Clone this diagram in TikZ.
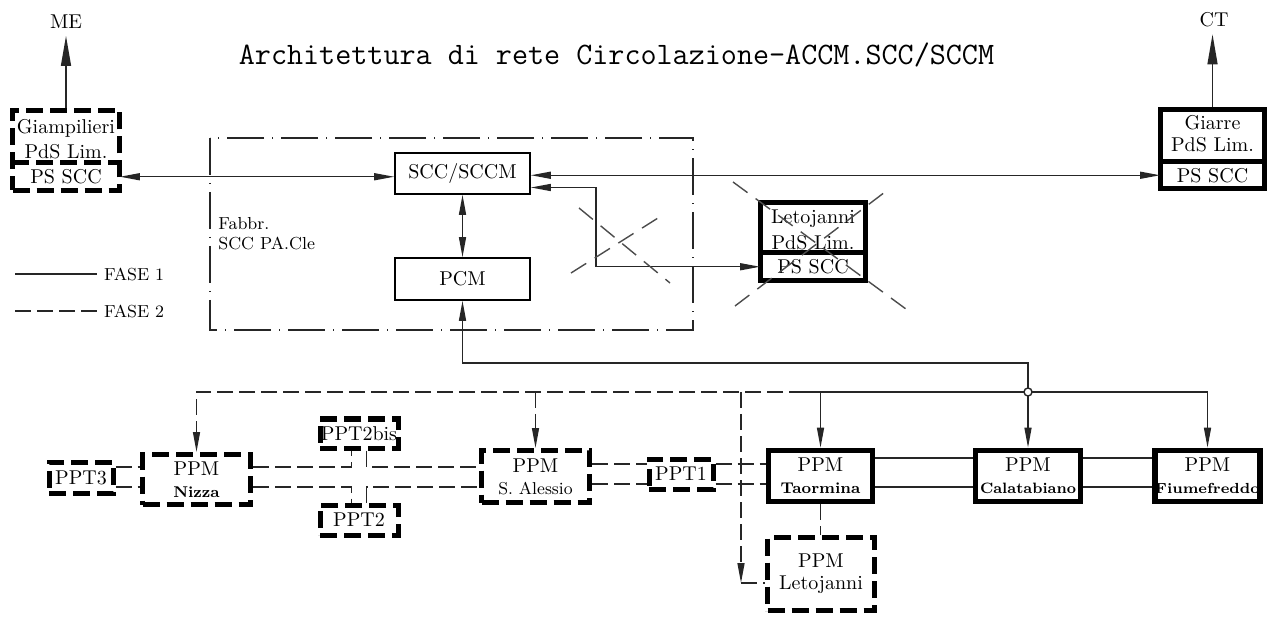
\documentclass[tikz,border=0pt]{standalone}
\usepackage{tikz}
\usetikzlibrary{arrows.meta,positioning,calc}

\newcommand{\sottobf}{\fontsize{7.8}{11}\selectfont\bfseries}
\newcommand{\sotto}{\fontsize{8.6}{11}\selectfont}

\begin{document}
\begin{tikzpicture}[x=0.5pt,y=-0.5pt,
    every node/.style={font=\fontsize{10}{11}\selectfont},
    etich/.style={font=\fontsize{8.7}{10}\selectfont},
    titolo/.style={font=\ttfamily\fontsize{15.6}{16}\selectfont},
    blocco/.style={draw,line width=0.8pt,inner sep=0pt},
    impianto/.style={draw,line width=2.8pt,inner sep=0pt,align=center},
    futuro/.style={draw,line width=2.5pt,dash pattern=on 8.5pt off 3.5pt,inner sep=0pt,align=center},
    ppt/.style={futuro,font=\fontsize{10}{11}\selectfont},
    conn/.style={line width=0.7pt,black!85},
    fase2/.style={conn,dash pattern=on 8pt off 3pt},
    croce/.style={conn,black!70,dash pattern=on 9pt off 5pt},
    cornice/.style={line width=0.8pt,black!85,dash pattern=on 18.5pt off 4pt on 0.5pt off 4pt},
    freccia/.style={-{Triangle[length=10pt,width=3.5pt]}},
    doppia/.style={{Triangle[length=10pt,width=3.5pt]}-{Triangle[length=10pt,width=3.5pt]}},
    grande/.style={-{Triangle[length=15pt,width=5pt]}}]
  \useasboundingbox (0,0) rectangle (1272,619);

  % titolo e legenda
  \node[titolo,anchor=base] (titolo) at (616.5,65) {Architettura di rete Circolazione-ACCM.SCC/SCCM};
  \coordinate (leg1) at (15,274);
  \coordinate (leg2) at (15,311);
  \node[etich,anchor=west] (leguno) at (97,274) {FASE 1};
  \node[etich,anchor=west] (legdue) at (97,311) {FASE 2};
  \draw[conn] (leg1) -- (leguno.west);
  \draw[fase2] (leg2) -- (legdue.west);

  % fabbricato SCC
  \draw[cornice] (210,138) rectangle (693,330);
  \node[etich,anchor=north west,align=left,inner sep=0pt] (fabbr) at (218,217) {Fabbr.\\SCC PA.Cle};
  \node[blocco,minimum width=67.5pt,minimum height=20.5pt] (scc) at (462.5,173.5) {SCC/SCCM};
  \node[blocco,minimum width=67.5pt,minimum height=21pt] (pcm) at (462.5,279) {PCM};

  % posti di servizio
  \node[futuro,minimum width=53.5pt,minimum height=40pt] (giam) at (66,150.5) {};
  \node[inner sep=0pt,minimum width=53.5pt,minimum height=13.75pt] (giamps) at (66,176.75) {PS SCC};
  \draw[futuro] (giamps.north west) -- (giamps.north east);
  \node[align=center,font=\fontsize{10}{12.5}\selectfont] (giamtxt) at (66,139) {Giampilieri\\PdS Lim.};

  \node[impianto,minimum width=52pt,minimum height=39.5pt] (giarre) at (1212.5,149) {};
  \node[inner sep=0pt,minimum width=52pt,minimum height=13.25pt] (giarreps) at (1212.5,175.25) {PS SCC};
  \draw[impianto] (giarreps.north west) -- (giarreps.north east);
  \node[align=center,font=\fontsize{10}{11}\selectfont] (giarretxt) at (1212.5,134) {Giarre\\PdS Lim.};

  \node[impianto,minimum width=52.5pt,minimum height=39pt] (leto) at (813,241.5) {};
  \node[inner sep=0pt,minimum width=52.5pt,minimum height=13.75pt] (letops) at (813,266.75) {PS SCC};
  \draw[impianto] (letops.north west) -- (letops.north east);
  \node[align=center,font=\fontsize{10}{13}\selectfont] (letotxt) at (813,230) {Letojanni\\PdS Lim.};

  \node[etich,font=\fontsize{10}{11}\selectfont] (me) at (66,22) {ME};
  \node[etich,font=\fontsize{10}{11}\selectfont] (ct) at (1214,20) {CT};
  \draw[conn,grande] (giam.north) -- (giam.north |- me.south);
  \draw[conn,grande] (giarre.north) -- (giarre.north |- ct.south);

  % collegamenti SCC
  \draw[conn,doppia] (giamps.east) -- (giamps.east -| scc.west);
  \draw[conn,doppia] (scc.east |- giarreps.west) -- (giarreps.west);
  \draw[conn,doppia] ([yshift=-7pt]scc.east) -- ++(65,0) |- (letops.west);
  \draw[conn,doppia] (scc.south) -- (pcm.north);

  % croci
  \draw[croce] (733,182) -- (910,312);
  \draw[croce] (735,306) -- (885,192);
  \draw[croce] (579,208) -- (670,283);
  \draw[croce] (571,273) -- (658,218);

  % PPM e PPT
  \node[ppt,minimum width=32pt,minimum height=15.5pt] (ppt3) at (81,477.5) {PPT3};
  \node[futuro,minimum width=54pt,minimum height=25pt] (nizza) at (196.5,479.5) {PPM\\\sottobf Nizza};
  \node[ppt,minimum width=39pt,minimum height=14.5pt] (ppt2bis) at (359,433.5) {PPT2bis};
  \node[ppt,minimum width=39pt,minimum height=15pt] (ppt2) at (359,520) {PPT2};
  \node[futuro,minimum width=54pt,minimum height=26pt] (salessio) at (535.5,476.5) {PPM\\\sotto S. Alessio};
  \node[ppt,minimum width=32pt,minimum height=15pt] (ppt1) at (681,474) {PPT1};
  \node[impianto,minimum width=52pt,minimum height=25.5pt] (taormina) at (820.5,476) {PPM\\\sottobf Taormina};
  \node[impianto,minimum width=52.5pt,minimum height=25.5pt] (calatabiano) at (1028,476) {PPM\\\sottobf\fontsize{7.5}{11}\selectfont Calatabiano};
  \node[impianto,minimum width=52pt,minimum height=25.5pt] (fiume) at (1207.5,476) {PPM\\\sottobf\fontsize{7.3}{11}\selectfont Fiumefreddo};
  \node[futuro,minimum width=53.5pt,minimum height=36.5pt] (pleto) at (821,574) {PPM\\Letojanni};

  % rete
  \coordinate (nodo) at (1028,392);
  \coordinate (bivio) at (805,392);
  \coordinate (dir) at (741,392);
  \coordinate (angolo) at ([yshift=-4.5pt]pleto.west);
  \draw[conn,freccia] (nodo) -- ++(0,-29) -| (pcm.south);
  \draw[conn,freccia] (nodo) -| (fiume.north);
  \draw[conn,freccia] (nodo) -- (calatabiano.north);
  \draw[conn,freccia] (nodo) -| (taormina.north);
  \draw[conn] (taormina.north |- nodo) -- (bivio);
  \draw[conn,fill=white] (nodo) circle (2pt);
  \draw[fase2,freccia] (bivio) -| (nizza.north);
  \draw[fase2,freccia] (salessio.north |- bivio) -- (salessio.north);
  \draw[fase2,freccia] (dir) -- (dir |- angolo);
  \draw[fase2] (dir |- angolo) -- (angolo);
  \draw[fase2] (taormina.south) -- (taormina.south |- pleto.north);

  \foreach \yy in {467,487} {
    \draw[fase2] (ppt3.east |- 0,\yy) -- (nizza.west |- 0,\yy);
  }
  \draw[fase2] (nizza.east |- 0,467) -| ([xshift=-3.75pt]ppt2bis.south);
  \draw[fase2] ([xshift=3.75pt]ppt2bis.south) |- (salessio.west |- 0,467);
  \draw[fase2] (nizza.east |- 0,487) -| ([xshift=-3.75pt]ppt2.north);
  \draw[fase2] ([xshift=3.75pt]ppt2.north) |- (salessio.west |- 0,487);
  \foreach \yy in {464,484} {
    \draw[fase2] (salessio.east |- 0,\yy) -- (ppt1.west |- 0,\yy);
    \draw[fase2] (ppt1.east |- 0,\yy) -- (taormina.west |- 0,\yy);
  }
  \foreach \yy in {458,487} {
    \draw[conn] (taormina.east |- 0,\yy) -- (calatabiano.west |- 0,\yy);
    \draw[conn] (calatabiano.east |- 0,\yy) -- (fiume.west |- 0,\yy);
  }
\end{tikzpicture}
\end{document}
